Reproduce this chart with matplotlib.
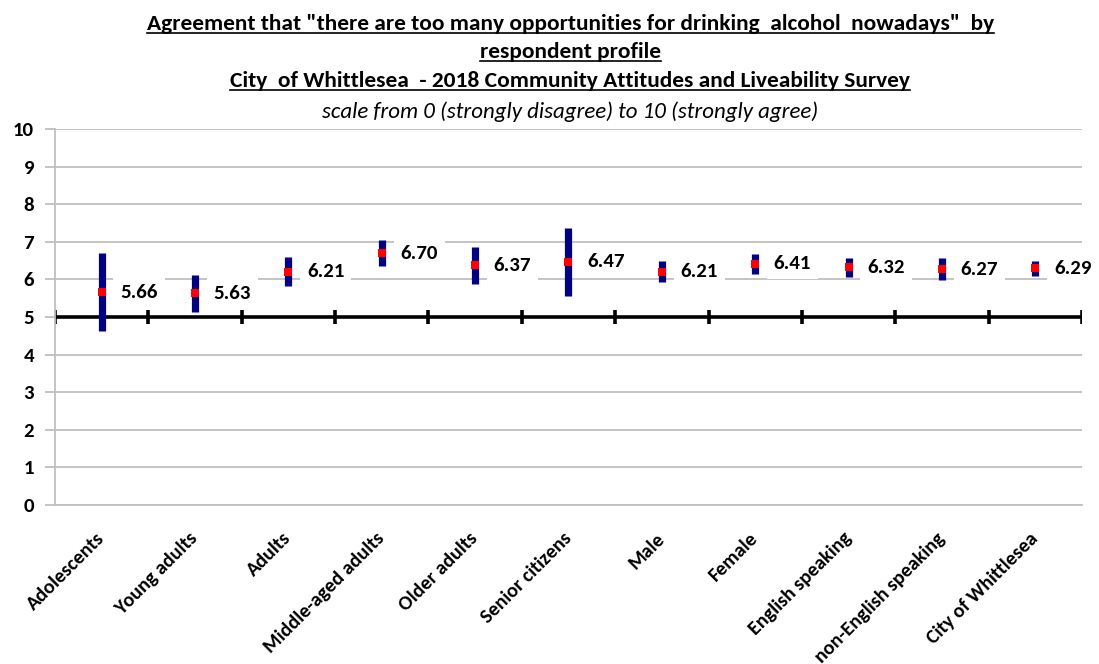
import matplotlib
matplotlib.use("Agg")
import matplotlib.pyplot as plt
from matplotlib.lines import Line2D
from matplotlib import font_manager

# Survey results: mean agreement score and the half-width of its confidence interval
categories = ["Adolescents", "Young adults", "Adults", "Middle-aged adults",
              "Older adults", "Senior citizens", "Male", "Female",
              "English speaking", "non-English speaking", "City of Whittlesea"]
means = [5.66, 5.63, 6.21, 6.70, 6.37, 6.47, 6.21, 6.41, 6.32, 6.27, 6.29]
margins = [1.04, 0.50, 0.38, 0.34, 0.48, 0.91, 0.29, 0.27, 0.25, 0.29, 0.19]
y_ticks = list(range(0, 11))

title_lines = [
    'Agreement that "there are too many opportunities for drinking  alcohol  nowadays"  by',
    "respondent profile",
    "City  of Whittlesea  - 2018 Community Attitudes and Liveability Survey",
]
subtitle = "scale from 0 (strongly disagree) to 10 (strongly agree)"

available = {f.name for f in font_manager.fontManager.ttflist}
FONT = "Carlito" if "Carlito" in available else "Lato"
plt.rcParams["font.family"] = [FONT, "DejaVu Sans"]

NAVY = "#000080"
RED = "#ff0000"
GRID = "#bfbfbf"

fig = plt.figure(figsize=(10.99, 6.64), dpi=100)
ax = fig.add_axes([0.050, 0.2395, 0.9345, 0.5662])

x = list(range(len(categories)))
lows = [m - e for m, e in zip(means, margins)]
highs = [m + e for m, e in zip(means, margins)]

ax.set_xlim(-0.5, len(categories) - 0.5)
ax.set_ylim(0, 10)
ax.set_yticks(y_ticks)
ax.set_yticklabels([str(t) for t in y_ticks], fontsize=15, fontweight="bold")
ax.yaxis.grid(True, color=GRID, linewidth=1.3, zorder=0)
ax.set_axisbelow(True)

for side in ("top", "right"):
    ax.spines[side].set_visible(False)
ax.spines["left"].set_color(GRID)
ax.spines["left"].set_linewidth(1.3)
ax.spines["bottom"].set_color(GRID)
ax.spines["bottom"].set_linewidth(1.3)
ax.tick_params(axis="y", colors=GRID, length=7, width=1.3, pad=8, labelcolor="black")

ax.set_xticks(x)
ax.set_xticklabels(categories, rotation=45, ha="right", va="center",
                   rotation_mode="anchor", fontsize=14.5, fontweight="bold")
ax.tick_params(axis="x", length=0, pad=22)

# Category axis crossing at the scale midpoint
ax.axhline(5, color="black", linewidth=2.6, zorder=2)
boundaries = [i - 0.5 for i in range(len(categories) + 1)]
ax.vlines(boundaries, 4.82, 5.18, color="black", linewidth=2.6, zorder=2)

# Confidence interval bars and mean markers
ax.vlines(x, lows, highs, color=NAVY, linewidth=5.2, zorder=4)
ax.plot(x, means, linestyle="none", marker="s", markersize=5.2,
        color=RED, markeredgewidth=0, zorder=5)

for xi, m in zip(x, means):
    ax.text(xi + 0.2, m, f"{m:.2f}", ha="left", va="center", fontsize=15,
            fontweight="bold", zorder=3,
            bbox=dict(facecolor="white", edgecolor="none", pad=5))

# Title block with underlines
title_y = [0.9548, 0.9127, 0.869]
cx = 0.519
title_texts = []
for line, ty in zip(title_lines, title_y):
    title_texts.append(fig.text(cx, ty, line, ha="center", va="baseline",
                                fontsize=16.8, fontweight="bold"))
fig.text(cx, 0.8223, subtitle, ha="center", va="baseline", fontsize=16.5,
         style="italic")

fig.canvas.draw()
renderer = fig.canvas.get_renderer()
for t, ty in zip(title_texts, title_y):
    bb = t.get_window_extent(renderer).transformed(fig.transFigure.inverted())
    uy = ty - 0.0050
    fig.add_artist(Line2D([bb.x0, bb.x1], [uy, uy], transform=fig.transFigure,
                          color="black", linewidth=1.2))

fig.savefig("out.png", dpi=100)
